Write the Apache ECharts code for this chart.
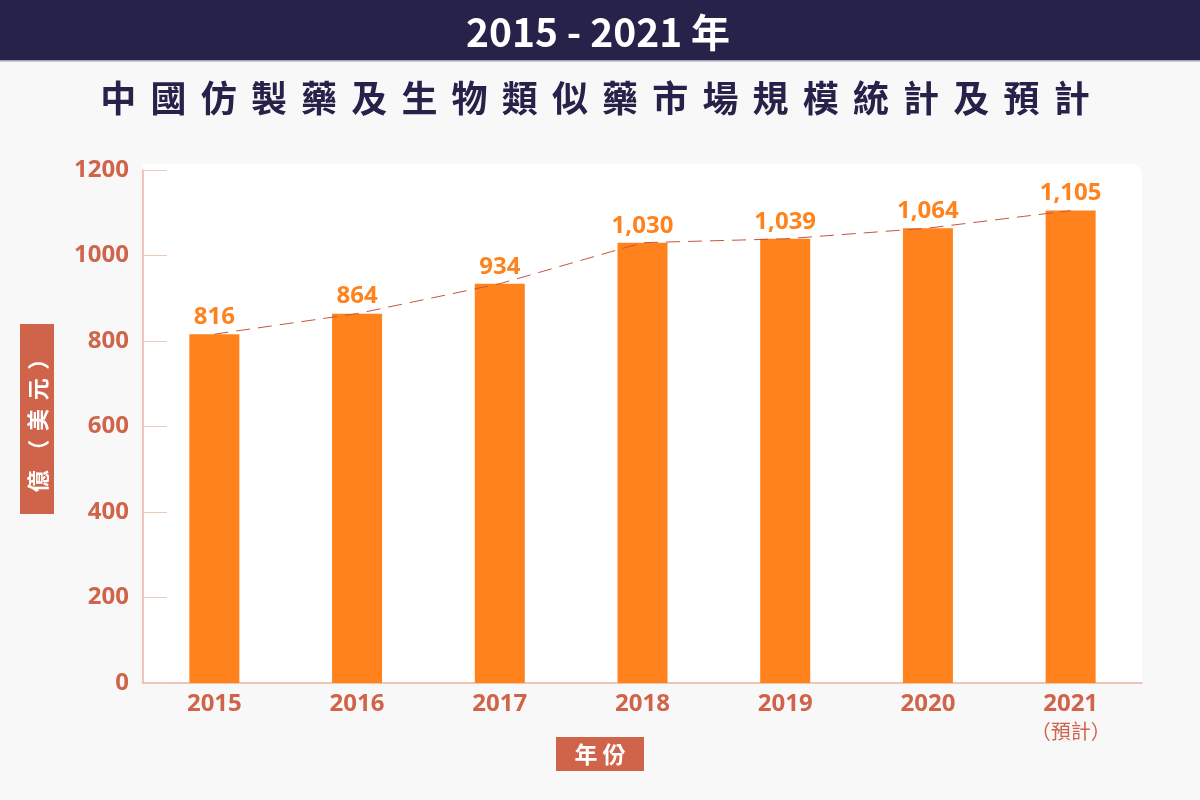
<!DOCTYPE html>
<html>
<head>
<meta charset="utf-8">
<script src="https://cdn.jsdelivr.net/npm/echarts@6/dist/echarts.min.js"></script>
<style>
  html, body { margin: 0; padding: 0; background: #f8f8f8; }
  #chart { width: 1200px; height: 800px; }
</style>
</head>
<body>
<div id="chart"></div>
<script>
// 年份與市場規模（億美元）
const years = ['2015', '2016', '2017', '2018', '2019', '2020', '2021'];
const marketSize = [816, 864, 934, 1030, 1039, 1064, 1105];
const yTicks = [0, 200, 400, 600, 800, 1000, 1200];

const FONT = '"Noto Sans CJK TC", "Noto Sans", sans-serif';
const NUM_FONT = '"Noto Sans", "Noto Sans CJK TC", sans-serif';
const ORANGE = '#ff821c';
const BRICK = '#d0644a';

function spaced(str, gap) {
  return str.split('').join(gap || ' ');
}

window.onload = function () {
  const chart = echarts.init(document.getElementById('chart'));

  const option = {
    backgroundColor: '#f8f8f8',
    textStyle: { fontFamily: FONT },
    graphic: [
      {
        type: 'rect', z: -10,
        shape: { x: 0, y: 0, width: 1200, height: 60 },
        style: { fill: '#272249' }
      },
      {
        type: 'rect', z: -10,
        shape: { x: 0, y: 60, width: 1200, height: 1.5 },
        style: { fill: '#a3a1b3' }
      },
      {
        type: 'text', x: 598, y: 32,
        style: {
          text: '2015 - 2021 年', fill: '#fff',
          font: 'bold 39px ' + FONT,
          textAlign: 'center', textVerticalAlign: 'middle'
        }
      },
      {
        type: 'text', x: 595, y: 98,
        style: {
          text: spaced('中國仿製藥及生物類似藥市場規模統計及預計', ' \u2006'), fill: '#272249',
          font: 'bold 36px ' + FONT,
          textAlign: 'center', textVerticalAlign: 'middle'
        }
      },
      {
        type: 'rect', z: -5,
        shape: { x: 143, y: 164, width: 999, height: 520, r: [0, 10, 0, 0] },
        style: { fill: '#ffffff' }
      },
      // 縱軸名稱
      {
        type: 'rect',
        shape: { x: 20, y: 324, width: 34, height: 190 },
        style: { fill: BRICK }
      },
      {
        type: 'text', x: 38, y: 420, rotation: Math.PI / 2,
        style: {
          text: spaced('億（美元）', ' \u2006'), fill: '#fff',
          font: 'bold 22px ' + FONT,
          textAlign: 'center', textVerticalAlign: 'middle'
        }
      },
      // 橫軸名稱
      {
        type: 'rect',
        shape: { x: 556, y: 737, width: 88, height: 34 },
        style: { fill: BRICK }
      },
      {
        type: 'text', x: 600, y: 754,
        style: {
          text: spaced('年份'), fill: '#fff',
          font: 'bold 23px ' + FONT,
          textAlign: 'center', textVerticalAlign: 'middle'
        }
      }
    ],
    grid: { left: 143, right: 58, top: 170, bottom: 117 },
    xAxis: {
      type: 'category',
      data: years,
      axisLine: { lineStyle: { color: '#e8b4a4', width: 1.5 } },
      axisTick: { inside: true, length: 12, lineStyle: { color: '#e8b4a4' } },
      axisLabel: {
        interval: 0,
        margin: 7,
        formatter: function (v) {
          return v === '2021' ? '{a|' + v + '}\n{b|（預計）}' : '{a|' + v + '}';
        },
        rich: {
          a: { color: BRICK, fontSize: 24, fontWeight: 'bold', lineHeight: 29, fontFamily: NUM_FONT },
          b: { color: BRICK, fontSize: 20, fontWeight: 'normal', lineHeight: 25, fontFamily: FONT }
        }
      }
    },
    yAxis: {
      type: 'value',
      min: 0,
      max: 1200,
      interval: 200,
      axisLine: { show: true, lineStyle: { color: '#e8b4a4', width: 1.5 } },
      axisTick: { show: true, inside: true, length: 24, lineStyle: { color: '#f2c6b8' } },
      splitLine: { show: false },
      axisLabel: {
        margin: 14,
        color: BRICK,
        fontSize: 24,
        fontWeight: 'bold',
        fontFamily: NUM_FONT,
        formatter: function (v) { return yTicks.indexOf(v) >= 0 ? String(v) : ''; }
      }
    },
    series: [
      {
        type: 'bar',
        data: marketSize,
        barWidth: 50,
        itemStyle: { color: ORANGE },
        label: {
          show: true,
          position: 'top',
          distance: 5,
          color: ORANGE,
          fontSize: 24,
          fontWeight: 'bold',
          fontFamily: NUM_FONT,
          formatter: function (p) { return p.value.toLocaleString('en-US'); }
        },
        z: 2
      },
      {
        type: 'line',
        data: marketSize,
        symbol: 'none',
        lineStyle: { color: '#c8553d', width: 1, type: [14, 8] },
        z: 3,
        silent: true
      }
    ]
  };

  chart.setOption(option);
};
</script>
</body>
</html>
